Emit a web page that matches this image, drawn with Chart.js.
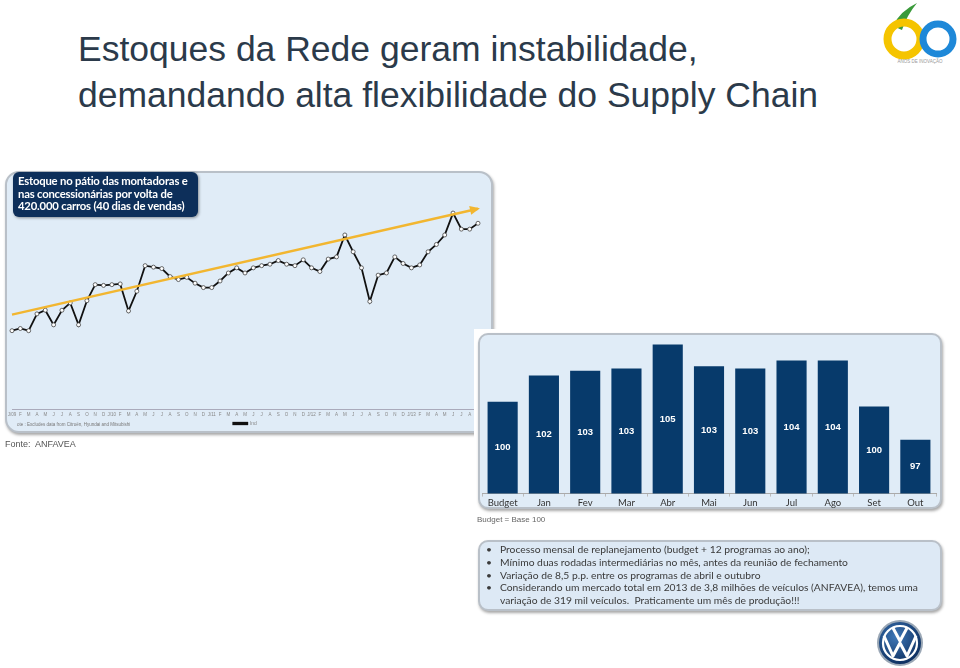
<!DOCTYPE html>
<html lang="pt">
<head>
<meta charset="utf-8">
<title>Estoques da Rede</title>
<script src="https://cdn.jsdelivr.net/npm/chart.js@4.4.0/dist/chart.umd.min.js"></script>
<style>
  body { margin: 0; background: #fff; }
  #slide { position: relative; width: 960px; height: 668px; overflow: hidden; font-family: "Liberation Sans", Arial, sans-serif; }
  #titulo { position: absolute; left: 78px; top: 26px; font-size: 35.5px; line-height: 46px; color: #2b3a4a; }
  .painel { position: absolute; background: #e0ecf7; border: 2px solid #b9c0c8; border-radius: 14px; box-shadow: 1px 2px 3px rgba(0,0,0,0.35); box-sizing: border-box; }
  #painelEstoque { left: 5px; top: 171px; width: 488px; height: 262px; }
  #fundoBarras { position: absolute; left: 474px; top: 329px; width: 480px; height: 185px; background: #fff; }
  #painelBarras { left: 478px; top: 333px; width: 464px; height: 176px; border-radius: 10px; }
  #painelTexto { left: 478px; top: 540px; width: 464px; height: 71px; border-radius: 10px; background: #dde9f5; }
  canvas { position: absolute; }
  #rotulo { position: absolute; left: 13px; top: 172px; width: 185px; height: 45px; background: #0d2f5a; border-radius: 6px; box-shadow: 1px 1px 3px rgba(0,0,0,0.4);
            color: #fff; font-family: Lato, sans-serif; font-weight: bold; font-size: 11.3px; line-height: 12.5px; padding: 3px 0 0 5px; box-sizing: border-box; letter-spacing: -0.2px; }
  #nota { position: absolute; left: 17px; top: 422px; font-size: 4.5px; color: #777; }
  #fonte { position: absolute; left: 5px; top: 439px; font-size: 9px; color: #555; }
  #base { position: absolute; left: 477px; top: 515px; font-size: 8px; color: #666; }
  #bullets { position: absolute; left: 486px; top: 543px; font-family: Lato, sans-serif; font-size: 10.3px; line-height: 12.8px; color: #3a3a3a; white-space: nowrap; }
  #bullets div { position: relative; padding-left: 14px; }
  #bullets div::before { content: "•"; position: absolute; left: 0; }
</style>
</head>
<body>
<div id="slide">
  <div id="titulo">Estoques da Rede geram instabilidade,<br>demandando alta flexibilidade do Supply Chain</div>

  <svg style="position:absolute;left:875px;top:0" width="85" height="70" viewBox="875 0 85 70">
    <path d="M893 26 Q900 11 917 3 Q907 15 902 30 Z" fill="#3a9a3a"/>
    <circle cx="904" cy="39" r="16.5" fill="none" stroke="#f5c400" stroke-width="8"/>
    <circle cx="938" cy="39" r="15" fill="none" stroke="#1e88d8" stroke-width="7"/>
    <text x="920" y="63" font-size="4.5" fill="#999" text-anchor="middle" font-family="Liberation Sans">ANOS DE INOVAÇÃO</text>
  </svg>

  <div class="painel" id="painelEstoque"></div>
  <canvas id="graficoEstoque" width="492" height="267" style="left:0;top:171px;width:492px;height:267px"></canvas>
  <div id="rotulo">Estoque no pátio das montadoras e<br>nas concessionárias por volta de<br>420.000 carros (40 dias de vendas)</div>
  <div id="nota">ote : Excludes data from Citroën, Hyundai and Mitsubishi</div>
  <div id="fonte">Fonte:&nbsp; ANFAVEA</div>

  <div id="fundoBarras"></div>
  <div class="painel" id="painelBarras"></div>
  <canvas id="graficoProgramas" width="464" height="179" style="left:478px;top:332px;width:464px;height:179px"></canvas>
  <div id="base">Budget = Base 100</div>

  <div class="painel" id="painelTexto"></div>
  <div id="bullets">
    <div>Processo mensal de replanejamento (budget + 12 programas ao ano);</div>
    <div>Mínimo duas rodadas intermediárias no mês, antes da reunião de fechamento</div>
    <div>Variação de 8,5 p.p. entre os programas de abril e outubro</div>
    <div>Considerando um mercado total em 2013 de 3,8 milhões de veículos (ANFAVEA), temos uma<br>variação de 319 mil veículos.&nbsp; Praticamente um mês de produção!!!</div>
  </div>

  <svg style="position:absolute;left:875px;top:618px" width="50" height="50" viewBox="-25 -25 50 50">
    <defs>
      <radialGradient id="vw" cx="40%" cy="35%" r="70%">
        <stop offset="0" stop-color="#3f78b8"/>
        <stop offset="1" stop-color="#0b2c5c"/>
      </radialGradient>
    </defs>
    <circle r="23" fill="#9aa7b5"/>
    <circle r="21" fill="url(#vw)"/>
    <circle r="17" fill="none" stroke="#fff" stroke-width="2.2"/>
    <path d="M-7 -15 L0 -2 L7 -15 M-16 -7 L-7 13 L0 0 L7 13 L16 -7" fill="none" stroke="#fff" stroke-width="3" stroke-linejoin="round"/>
  </svg>
</div>

<script>
// estoque mensal (mil carros), jan/09 a set/13
const meses = ['J/09','F','M','A','M','J','J','A','S','O','N','D',
  'J/10','F','M','A','M','J','J','A','S','O','N','D',
  'J/11','F','M','A','M','J','J','A','S','O','N','D',
  'J/12','F','M','A','M','J','J','A','S','O','N','D',
  'J/13','F','M','A','M','J','J','A','S'];
const estoque = [258, 261, 258, 281, 286, 266, 286, 296, 266, 299, 321, 320,
  321, 322, 285, 312, 347, 345, 343, 332, 328, 331, 323, 317,
  317, 326, 337, 344, 337, 344, 347, 349, 354, 349, 347, 355,
  344, 339, 356, 359, 389, 366, 344, 298, 334, 337, 359, 350,
  344, 348, 366, 376, 389, 419, 397, 397, 405];
// seta de tendencia (inicio e fim)
const tendencia = [280, ...Array(55).fill(null), 425];

// programas de producao, budget = base 100
const programas = ['Budget','Jan','Fev','Mar','Abr','Mai','Jun','Jul','Ago','Set','Out'];
const indices = [100, 102.3, 102.7, 102.9, 105.0, 103.1, 102.9, 103.6, 103.6, 99.6, 96.7];

const setaPlugin = {
    id: 'seta',
    afterDatasetsDraw(chart){
        let meta = chart.getDatasetMeta(0);
        let pts = meta.data.filter((p, i) => tendencia[i] !== null);
        let a = pts[0], b = pts[pts.length - 1];
        let ang = Math.atan2(b.y - a.y, b.x - a.x);
        let ctx = chart.ctx;
        ctx.save();
        ctx.translate(b.x, b.y);
        ctx.rotate(ang);
        ctx.fillStyle = '#f2b630';
        ctx.beginPath();
        ctx.moveTo(2, 0);
        ctx.lineTo(-8, -4.5);
        ctx.lineTo(-8, 4.5);
        ctx.closePath();
        ctx.fill();
        ctx.restore();
    }
};

const rotulosPlugin = {
    id: 'rotulos',
    afterDraw(chart){
        let ctx = chart.ctx;
        let x = chart.scales.x, y = chart.scales.y;
        let base = y.getPixelForValue(y.min);
        ctx.save();
        ctx.fillStyle = '#ffffff';
        ctx.font = 'bold 9.5px Arial';
        ctx.textAlign = 'center';
        ctx.textBaseline = 'middle';
        indices.forEach((v, i) => {
            let topo = y.getPixelForValue(v);
            ctx.fillText(String(Math.round(v)), x.getPixelForValue(i), (topo + base) / 2);
        });
        ctx.restore();
    }
};

new Chart(document.getElementById('graficoEstoque'), {
    type: 'line',
    data: {
        labels: meses,
        datasets: [{
            label: 'tendencia',
            data: tendencia,
            spanGaps: true,
            borderColor: '#f2b630',
            borderWidth: 2.5,
            pointRadius: 0,
        }, {
            label: 'Ind',
            data: estoque,
            borderColor: '#111',
            backgroundColor: '#111',
            borderWidth: 1.8,
            pointRadius: 2,
            pointBackgroundColor: '#fff',
            pointBorderColor: '#444',
            pointBorderWidth: 0.8,
        }],
    },
    options: {
        responsive: false,
        animation: false,
        layout: { padding: { left: 12, right: 14, top: 0, bottom: 2 } },
        scales: {
            x: {
                offset: false,
                grid: { display: false, drawTicks: false, tickLength: 0 },
                border: { color: '#aab', dash: [1, 1] },
                ticks: { autoSkip: false, maxRotation: 0, padding: 2, font: { size: 4.5 }, color: '#888' },
            },
            y: { display: false, min: 150, max: 470 },
        },
        plugins: {
            legend: {
                position: 'bottom',
                labels: {
                    filter: (item) => item.text === 'Ind',
                    boxWidth: 14, boxHeight: 1.5, padding: 2,
                    font: { size: 5 }, color: '#888',
                },
            },
            tooltip: { enabled: false },
        },
    },
    plugins: [setaPlugin],
});

new Chart(document.getElementById('graficoProgramas'), {
    type: 'bar',
    data: {
        labels: programas,
        datasets: [{
            label: 'Programa',
            data: indices,
            backgroundColor: '#073a6b',
            categoryPercentage: 1,
            barPercentage: 0.73,
        }],
    },
    options: {
        responsive: false,
        animation: false,
        layout: { padding: { left: 4, right: 6, top: 1, bottom: 1 } },
        scales: {
            x: {
                grid: { drawOnChartArea: false, drawTicks: true, tickLength: 3, color: '#bbb' },
                border: { color: '#aaa' },
                ticks: { padding: 1, font: { family: 'Lato', size: 9.5 }, color: '#333' },
            },
            y: { display: false, min: 92, max: 106 },
        },
        plugins: {
            legend: { display: false },
            tooltip: { enabled: false },
        },
    },
    plugins: [rotulosPlugin],
});
</script>
</body>
</html>
